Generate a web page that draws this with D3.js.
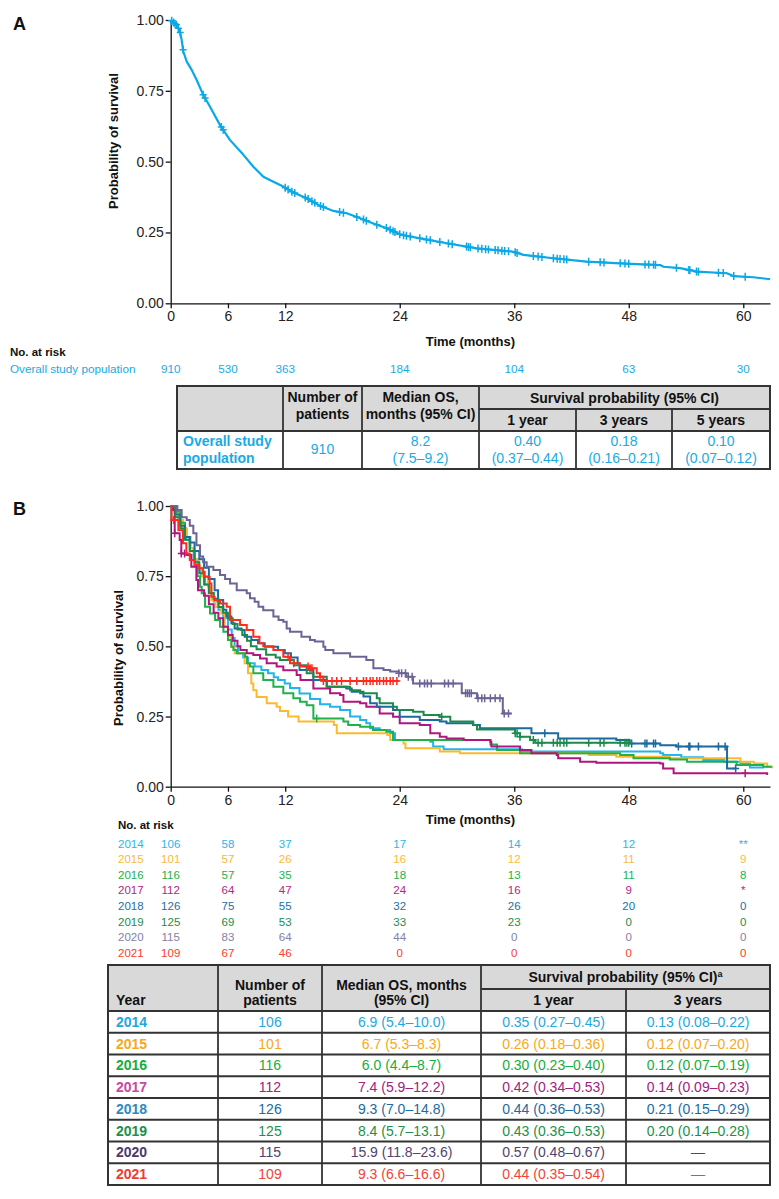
<!DOCTYPE html>
<html>
<head>
<meta charset="utf-8">
<script src="https://cdn.jsdelivr.net/npm/d3@7"></script>
<style>
    body { margin: 0; background: #fff; }
    svg { display: block; font-family: "Liberation Sans", Arial, Helvetica, sans-serif; }
</style>
</head>
<body>
<div id="chart"></div>
<script>
"use strict";

// ----------------------------------------
//  Data
// ----------------------------------------

let at_risk_times = [0, 6, 12, 24, 36, 48, 60];
let y_ticks = [0, 0.25, 0.5, 0.75, 1];

// Panel A - overall population, [months, survival]
let overall_curve = [[0,1],[0.63,0.982],[0.98,0.959],[1.15,0.929],[1.33,0.888],[1.68,0.853],[2.2,0.824],
    [2.72,0.788],[3.42,0.735],[4.12,0.694],[5.17,0.629],[6.22,0.576],[7.62,0.524],[8.66,0.482],[9.71,0.447],
    [10.76,0.429],[11.8,0.412],[12.86,0.391],[14.25,0.371],[15.65,0.344],[17.05,0.326],[18.45,0.318],
    [19.85,0.3],[21.24,0.282],[22.64,0.265],[24.04,0.243],[26.13,0.229],[28.93,0.212],[32.07,0.194],
    [35.92,0.182],[36.96,0.171],[40.11,0.159],[43.6,0.147],[47.1,0.141],[51.29,0.135],[51.64,0.129],
    [53.39,0.124],[55.13,0.112],[58.28,0.106],[58.98,0.096],[61.07,0.092],[62.82,0.085]];
let overall_censor = [0.1,0.3,0.45,0.6,0.8,1.0,1.3,3.4,3.6,5.3,5.5,12.0,12.3,12.7,13.0,14.1,14.4,14.8,15.1,15.7,
    16.0,17.7,18.1,19.5,20.2,20.5,21.6,22.6,23.0,23.3,23.5,24.0,24.4,24.7,25.1,26.1,26.8,27.2,28.2,29.1,29.5,
    31.0,31.2,31.4,32.2,32.6,33.0,33.3,34.0,34.3,34.7,35.0,35.4,36.1,36.3,38.0,38.5,38.9,40.1,40.5,40.8,41.2,
    41.5,43.8,45.0,45.4,47.1,47.6,48.0,49.7,50.1,50.6,50.8,53.0,54.3,54.4,55.1,55.3,57.4,57.9,59.0,60.2];
let overall_at_risk = [910, 530, 363, 184, 104, 63, 30];

// Panel B - by year of diagnosis
let years = ['2014','2015','2016','2017','2018','2019','2020','2021'];
let year_colors = ['#22b4ea','#fbb92e','#22b04a','#b0177e','#1c6aa0','#1b8a4c','#6d6394','#ff2b1c'];
let risk_colors = ['#29b6ea','#fbb93a','#22b04a','#b3258a','#2271a5','#1d8c4e','#8580a8','#ff3a2a'];

let curve_2014 = [[0,1],[0.4,0.98],[0.8,0.95],[1.2,0.92],[1.6,0.88],[2.0,0.85],[2.4,0.81],[2.8,0.78],[3.2,0.75],
    [3.6,0.72],[4.0,0.69],[4.5,0.66],[5.0,0.63],[5.5,0.6],[6.0,0.56],[6.4,0.53],[6.7,0.5],[7.05,0.475],[7.6,0.46],
    [8.1,0.44],[8.8,0.428],[9.5,0.416],[10.2,0.404],[10.8,0.39],[11.25,0.38],[11.95,0.368],[12.5,0.352],
    [13.5,0.332],[14.6,0.312],[15.65,0.294],[16.7,0.285],[17.75,0.273],[18.8,0.25],[19.85,0.238],[20.5,0.226],
    [20.9,0.208],[21.9,0.202],[23.0,0.19],[23.5,0.166],[27.2,0.16],[27.5,0.143],[28.6,0.133],[36.8,0.125],
    [51.3,0.119],[51.6,0.113],[53.5,0.105],[55.8,0.095],[58.0,0.089],[59.7,0.083],[60.7,0.068],[62.2,0.068]];
let curve_2015 = [[0,1],[0.5,0.98],[0.9,0.95],[1.3,0.92],[1.7,0.89],[2.1,0.85],[2.5,0.81],[2.9,0.78],[3.3,0.75],
    [3.9,0.712],[4.26,0.665],[4.7,0.64],[5.3,0.617],[5.66,0.57],[6.0,0.534],[6.36,0.499],[6.7,0.475],[7.75,0.44],
    [8.1,0.404],[8.45,0.368],[8.66,0.344],[9.0,0.32],[10.06,0.297],[11.1,0.285],[11.45,0.27],[12.3,0.25],
    [13.4,0.232],[17.1,0.22],[17.4,0.19],[22.7,0.184],[23.0,0.166],[24.4,0.154],[24.6,0.137],[28.2,0.125],
    [30.3,0.119],[43.8,0.113],[46.7,0.107],[52.3,0.101],[59.7,0.089],[61.1,0.083],[62.5,0.071],[63,0.066]];
let curve_2016 = [[0,1],[0.7,0.98],[1.0,0.94],[1.5,0.89],[2.0,0.84],[2.5,0.79],[2.8,0.75],[3.07,0.712],[3.25,0.689],
    [3.6,0.641],[4.12,0.617],[4.65,0.594],[5.17,0.57],[5.52,0.552],[6.0,0.523],[6.36,0.499],[6.57,0.487],
    [6.92,0.475],[7.79,0.463],[8.0,0.44],[8.3,0.428],[8.66,0.404],[9.7,0.38],[10.76,0.356],[11.8,0.333],
    [12.85,0.315],[13.55,0.303],[14.25,0.29],[14.95,0.243],[18.1,0.232],[18.6,0.22],[19.85,0.214],[21.2,0.202],
    [22.6,0.196],[23.3,0.166],[33.5,0.15],[34.2,0.131],[36.6,0.119],[47.1,0.113],[48.5,0.101],[52.3,0.097],
    [54.1,0.089],[59.3,0.077],[62.1,0.071],[63,0.071]];
let curve_2017 = [[0,1],[0.24,0.986],[0.42,0.903],[0.94,0.879],[1.11,0.831],[1.64,0.825],[2.16,0.784],[2.69,0.736],
    [2.86,0.7],[3.5,0.68],[4.0,0.65],[4.5,0.62],[5.0,0.6],[5.5,0.57],[6.0,0.54],[6.5,0.52],[7.0,0.5],[7.3,0.487],
    [7.97,0.475],[8.66,0.469],[9.36,0.457],[10.06,0.44],[11.1,0.428],[11.8,0.415],[13.2,0.398],[13.6,0.38],
    [14.95,0.35],[16.7,0.333],[17.75,0.327],[18.1,0.303],[19.85,0.297],[20.5,0.285],[21.9,0.261],[23.3,0.249],
    [24.0,0.226],[26.1,0.22],[27.2,0.19],[28.2,0.178],[28.9,0.172],[30.7,0.166],[33.5,0.16],[33.6,0.143],
    [36.6,0.131],[37.8,0.119],[40.45,0.113],[40.6,0.101],[42.9,0.089],[44.6,0.085],[51.3,0.083],[51.6,0.065],
    [52.7,0.048],[62.5,0.042]];
let curve_2018 = [[0,1],[0.5,0.97],[1.0,0.93],[1.5,0.89],[2.0,0.87],[2.5,0.84],[3.0,0.81],[3.5,0.78],[4.0,0.74],
    [4.6,0.7],[4.96,0.665],[5.5,0.63],[5.83,0.606],[6.36,0.582],[6.7,0.564],[7.4,0.558],[7.75,0.534],[8.45,0.523],
    [9.15,0.511],[9.85,0.499],[11.25,0.487],[11.95,0.475],[12.6,0.46],[13.3,0.44],[13.5,0.416],[14.95,0.38],
    [16.35,0.356],[18.4,0.35],[18.97,0.338],[20.2,0.321],[20.9,0.297],[21.6,0.285],[23.3,0.273],[24.0,0.249],
    [26.1,0.238],[28.2,0.232],[28.9,0.226],[31.7,0.22],[32.4,0.208],[37.8,0.19],[40.6,0.172],[46.7,0.166],
    [48.1,0.154],[51.3,0.148],[53.0,0.143],[58.3,0.065],[59.3,0.065]];
let curve_2019 = [[0,1],[0.5,0.96],[1.0,0.92],[1.5,0.88],[2.0,0.84],[2.5,0.8],[3.0,0.76],[3.5,0.72],[4.0,0.69],
    [4.5,0.67],[5.0,0.64],[5.5,0.62],[6.0,0.6],[6.5,0.58],[7.0,0.56],[7.5,0.54],[8.0,0.52],[8.4,0.5],[9.0,0.49],
    [10.0,0.47],[11.0,0.46],[11.46,0.451],[12.9,0.433],[14.25,0.404],[14.95,0.392],[16.35,0.356],[18.8,0.344],
    [19.85,0.333],[21.6,0.315],[21.9,0.297],[23.3,0.285],[23.7,0.273],[25.4,0.267],[26.5,0.255],[28.2,0.249],
    [29.3,0.232],[31.7,0.22],[32.1,0.204],[36.09,0.19],[36.6,0.178],[37.66,0.166],[38.2,0.157],[48.1,0.157]];
let curve_2020 = [[0,1],[0.63,0.986],[1.15,0.96],[1.68,0.95],[2.0,0.93],[2.37,0.903],[2.7,0.86],[3.07,0.82],
    [3.4,0.8],[3.77,0.784],[4.47,0.772],[5.17,0.754],[5.7,0.74],[6.22,0.724],[6.92,0.7],[7.97,0.689],[8.31,0.671],
    [8.8,0.659],[9.2,0.641],[9.7,0.629],[10.76,0.606],[11.3,0.594],[11.8,0.588],[12.15,0.564],[12.5,0.552],
    [13.7,0.534],[14.6,0.523],[15.1,0.517],[16.0,0.499],[16.2,0.487],[17.05,0.475],[18.8,0.463],[20.5,0.451],
    [21.24,0.422],[22.3,0.416],[23.0,0.41],[23.9,0.404],[24.7,0.392],[25.4,0.368],[30.3,0.368],[30.5,0.333],
    [32.1,0.315],[34.75,0.315],[34.8,0.261],[35.7,0.261]];
let curve_2021 = [[0,1],[0.1,0.95],[0.8,0.914],[1.29,0.867],[1.64,0.831],[2.0,0.808],[2.51,0.79],[3.0,0.778],
    [3.39,0.766],[3.56,0.748],[4.08,0.724],[4.26,0.677],[4.6,0.665],[5.17,0.653],[5.87,0.641],[6.22,0.594],
    [7.27,0.576],[7.97,0.558],[8.66,0.534],[9.3,0.511],[9.7,0.5],[10.76,0.487],[11.8,0.463],[12.5,0.44],
    [13.55,0.428],[14.6,0.422],[15.3,0.404],[15.65,0.392],[16.0,0.377],[23.9,0.377]];
let year_curves = [curve_2014, curve_2015, curve_2016, curve_2017, curve_2018, curve_2019, curve_2020, curve_2021];

let year_censors = [
    [],
    [],
    [15.3],
    [0.42, 1.11, 1.46, 60.2],
    [39.2,48.3,49.7,49.9,50.6,50.8,53.2,54.3,54.4,55.3,57.4,58.1,59.2],
    [28.4,36.1,36.3,36.6,38.0,38.5,38.9,40.1,40.5,40.8,41.2,41.5,43.8,45.0,45.4,47.1,47.6,47.8,48.0],
    [23.9,24.2,24.6,24.9,25.3,26.1,26.6,26.9,27.3,28.7,29.1,29.6,30.9,31.1,31.3,31.5,32.2,32.6,32.9,33.5,34.0,34.5,34.95,35.4],
    [0.3,12.3,12.9,14.4,14.6,14.8,15.65,16.0,16.9,17.4,17.9,18.8,19.5,20.2,20.5,20.9,21.2,21.6,21.9,22.3,22.6,23.0,23.3,23.7]
];

let at_risk_by_year = [
    ['106','58','37','17','14','12','**'],
    ['101','57','26','16','12','11','9'],
    ['116','57','35','18','13','11','8'],
    ['112','64','47','24','16','9','*'],
    ['126','75','55','32','26','20','0'],
    ['125','69','53','33','23','0','0'],
    ['115','83','64','44','0','0','0'],
    ['109','67','46','0','0','0','0']
];

// Table B
let n_patients = ['106','101','116','112','126','125','115','109'];
let median_os = ['6.9 (5.4\u201310.0)','6.7 (5.3\u20138.3)','6.0 (4.4\u20138.7)','7.4 (5.9\u201312.2)',
    '9.3 (7.0\u201314.8)','8.4 (5.7\u201313.1)','15.9 (11.8\u201323.6)','9.3 (6.6\u201316.6)'];
let surv_1yr = ['0.35 (0.27\u20130.45)','0.26 (0.18\u20130.36)','0.30 (0.23\u20130.40)','0.42 (0.34\u20130.53)',
    '0.44 (0.36\u20130.53)','0.43 (0.36\u20130.53)','0.57 (0.48\u20130.67)','0.44 (0.35\u20130.54)'];
let surv_3yr = ['0.13 (0.08\u20130.22)','0.12 (0.07\u20130.20)','0.12 (0.07\u20130.19)','0.14 (0.09\u20130.23)',
    '0.21 (0.15\u20130.29)','0.20 (0.14\u20130.28)','\u2014','\u2014'];
let label_colors = ['#1ea7e0','#f7a823','#17ad3b','#c8489f','#2a8bc0','#1c8f4a','#4a3a6e','#f03a32'];
let cell_colors  = ['#1ea7e0','#f7a823','#17ad3b','#a3207f','#1d6a9f','#1c8f4a','#4f4470','#f0443a'];

// Plot Appearance Settings
let width = 779, height = 1199;
let cyan = '#0aa8e6';
let cyan_text = '#1aaae4';
let border = '#333';
let head_fill = '#d9d9d9';

let svg = d3.select('#chart').append('svg')
    .attr('width', width)
    .attr('height', height);

svg.append('rect').attr('width', width).attr('height', height).attr('fill', '#fff');

// ----------------------------------------
//  Helpers
// ----------------------------------------

function draw_axes(x, y, x_title_y, y_title_pos) {
    let g = svg.append('g');
    g.append('g')
        .attr('transform', 'translate(0,' + y(0) + ')')
        .call(d3.axisBottom(x).tickValues(at_risk_times).tickSize(5).tickSizeOuter(0).tickFormat(d3.format('d')))
        .call(ax => ax.attr('font-family', null).attr('font-size', 14));
    g.append('g')
        .attr('transform', 'translate(' + x(0) + ',0)')
        .call(d3.axisLeft(y).tickValues(y_ticks).tickSize(5).tickSizeOuter(0).tickPadding(2).tickFormat(d3.format('.2f')))
        .call(ax => ax.attr('font-family', null).attr('font-size', 14));
    g.selectAll('.domain, .tick line').attr('stroke', '#111').attr('stroke-width', 1.3);
    g.selectAll('.tick text').attr('fill', '#222');

    g.append('text')
        .attr('x', (x.range()[0] + x.range()[1]) / 2)
        .attr('y', x_title_y)
        .attr('text-anchor', 'middle')
        .attr('font-weight', 'bold')
        .attr('font-size', 13)
        .attr('fill', '#111')
        .text('Time (months)');

    g.append('text')
        .attr('transform', 'translate(' + y_title_pos[0] + ',' + y_title_pos[1] + ') rotate(-90)')
        .attr('text-anchor', 'middle')
        .attr('dy', '0.35em')
        .attr('font-weight', 'bold')
        .attr('font-size', 13)
        .attr('fill', '#111')
        .text('Probability of survival');
}

// value of a step function at time t
function step_value(points, t) {
    let i = d3.bisector(d => d[0]).right(points, t) - 1;
    return points[Math.max(i, 0)][1];
}

// value of a piecewise linear curve at time t
function linear_value(points, t) {
    let i = d3.bisector(d => d[0]).right(points, t);
    if (i <= 0) return points[0][1];
    if (i >= points.length) return points[points.length - 1][1];
    let a = points[i - 1], b = points[i];
    return a[1] + (b[1] - a[1]) * (t - a[0]) / (b[0] - a[0]);
}

function draw_censors(g, times, value_fn, x, y, color, sw) {
    g.selectAll(null)
        .data(times)
        .enter()
        .append('path')
        .attr('d', function (t) {
            let cx = x(t), cy = y(value_fn(t));
            return 'M' + (cx - 3.5) + ',' + cy + 'h7M' + cx + ',' + (cy - 4) + 'v8';
        })
        .attr('stroke', color)
        .attr('stroke-width', sw)
        .attr('fill', 'none');
}

function txt(g, x, y, s, opts) {
    opts = opts || {};
    return g.append('text')
        .attr('x', x)
        .attr('y', y)
        .attr('text-anchor', opts.anchor || 'middle')
        .attr('font-size', opts.size || 14)
        .attr('font-weight', opts.bold ? 'bold' : null)
        .attr('fill', opts.color || '#111')
        .text(s);
}

function hline(g, x1, x2, y) {
    g.append('line').attr('x1', x1).attr('x2', x2).attr('y1', y).attr('y2', y)
        .attr('stroke', border).attr('stroke-width', 1.8);
}

function vline(g, x, y1, y2) {
    g.append('line').attr('x1', x).attr('x2', x).attr('y1', y1).attr('y2', y2)
        .attr('stroke', border).attr('stroke-width', 1.8);
}

// ----------------------------------------
//  Panel A
// ----------------------------------------

let x_a = d3.scaleLinear().domain([0, 62.8]).range([170.7, 770]);
let y_a = d3.scaleLinear().domain([0, 1]).range([303.3, 20]);

txt(svg, 13, 30, 'A', {anchor: 'start', size: 18, bold: true});
draw_axes(x_a, y_a, 346, [113, 141]);

let g_a = svg.append('g');
g_a.append('path')
    .datum(overall_curve)
    .attr('d', d3.line().x(d => x_a(d[0])).y(d => y_a(d[1])).curve(d3.curveLinear))
    .attr('fill', 'none')
    .attr('stroke', cyan)
    .attr('stroke-width', 2.2)
    .attr('stroke-linejoin', 'round');
draw_censors(g_a, overall_censor, t => linear_value(overall_curve, t), x_a, y_a, cyan, 1.5);

// at risk
txt(svg, 10, 356, 'No. at risk', {anchor: 'start', size: 11.5, bold: true});
txt(svg, 10, 373, 'Overall study population', {anchor: 'start', size: 11.7, color: cyan_text});
at_risk_times.forEach(function (t, i) {
    txt(svg, x_a(t), 373, overall_at_risk[i], {size: 11.7, color: cyan_text});
});

// table A
let ta = svg.append('g');
let ta_cols = [177, 283, 362, 479, 576, 672, 770];
let ta_top = 386, ta_sub = 409, ta_head = 431, ta_bot = 469;
ta.append('rect').attr('x', ta_cols[0]).attr('y', ta_top)
    .attr('width', ta_cols[6] - ta_cols[0]).attr('height', ta_head - ta_top).attr('fill', head_fill);
hline(ta, ta_cols[3], ta_cols[6], ta_sub);
hline(ta, ta_cols[0], ta_cols[6], ta_head);
[1, 2, 3].forEach(i => vline(ta, ta_cols[i], ta_top, ta_bot));
[4, 5].forEach(i => vline(ta, ta_cols[i], ta_sub, ta_bot));
ta.append('rect').attr('x', ta_cols[0]).attr('y', ta_top)
    .attr('width', ta_cols[6] - ta_cols[0]).attr('height', ta_bot - ta_top)
    .attr('fill', 'none').attr('stroke', border).attr('stroke-width', 2);

let mid = (a, b) => (a + b) / 2;
txt(ta, mid(ta_cols[1], ta_cols[2]), 402, 'Number of', {bold: true});
txt(ta, mid(ta_cols[1], ta_cols[2]), 419, 'patients', {bold: true});
txt(ta, mid(ta_cols[2], ta_cols[3]), 402, 'Median OS,', {bold: true});
txt(ta, mid(ta_cols[2], ta_cols[3]), 419, 'months (95% CI)', {bold: true});
txt(ta, mid(ta_cols[3], ta_cols[6]), 402.5, 'Survival probability (95% CI)', {bold: true});
txt(ta, mid(ta_cols[3], ta_cols[4]), 425, '1 year', {bold: true});
txt(ta, mid(ta_cols[4], ta_cols[5]), 425, '3 years', {bold: true});
txt(ta, mid(ta_cols[5], ta_cols[6]), 425, '5 years', {bold: true});

txt(ta, 183, 446, 'Overall study', {anchor: 'start', bold: true, color: cyan_text});
txt(ta, 183, 463, 'population', {anchor: 'start', bold: true, color: cyan_text});
txt(ta, mid(ta_cols[1], ta_cols[2]), 454, '910', {color: cyan_text});
txt(ta, mid(ta_cols[2], ta_cols[3]), 446, '8.2', {color: cyan_text});
txt(ta, mid(ta_cols[2], ta_cols[3]), 463, '(7.5\u20139.2)', {color: cyan_text});
txt(ta, mid(ta_cols[3], ta_cols[4]), 446, '0.40', {color: cyan_text});
txt(ta, mid(ta_cols[3], ta_cols[4]), 463, '(0.37\u20130.44)', {color: cyan_text});
txt(ta, mid(ta_cols[4], ta_cols[5]), 446, '0.18', {color: cyan_text});
txt(ta, mid(ta_cols[4], ta_cols[5]), 463, '(0.16\u20130.21)', {color: cyan_text});
txt(ta, mid(ta_cols[5], ta_cols[6]), 446, '0.10', {color: cyan_text});
txt(ta, mid(ta_cols[5], ta_cols[6]), 463, '(0.07\u20130.12)', {color: cyan_text});

// ----------------------------------------
//  Panel B
// ----------------------------------------

let x_b = d3.scaleLinear().domain([0, 62.8]).range([170.7, 770]);
let y_b = d3.scaleLinear().domain([0, 1]).range([786.7, 506]);

txt(svg, 13, 515, 'B', {anchor: 'start', size: 18, bold: true});
draw_axes(x_b, y_b, 824, [118, 658]);

let g_b = svg.append('g');
let step_line = d3.line().x(d => x_b(d[0])).y(d => y_b(d[1])).curve(d3.curveStepAfter);
year_curves.forEach(function (c, i) {
    g_b.append('path')
        .datum(c)
        .attr('d', step_line)
        .attr('fill', 'none')
        .attr('stroke', year_colors[i])
        .attr('stroke-width', 2);
    draw_censors(g_b, year_censors[i], t => step_value(c, t), x_b, y_b, year_colors[i], 1.5);
});

// at risk by year
txt(svg, 118, 829, 'No. at risk', {anchor: 'start', size: 11.5, bold: true});
years.forEach(function (yr, i) {
    let yy = 847.5 + i * 15.65;
    txt(svg, 118, yy, yr, {anchor: 'start', size: 11.5, color: risk_colors[i]});
    at_risk_times.forEach(function (t, j) {
        txt(svg, x_b(t), yy, at_risk_by_year[i][j], {size: 11.5, color: risk_colors[i]});
    });
});

// table B
let tb = svg.append('g');
let tb_cols = [108, 218, 322, 481, 626, 770];
let tb_top = 965, tb_sub = 989, tb_head = 1011, tb_row = 21.75;
let tb_bot = tb_head + tb_row * years.length;
tb.append('rect').attr('x', tb_cols[0]).attr('y', tb_top)
    .attr('width', tb_cols[5] - tb_cols[0]).attr('height', tb_head - tb_top).attr('fill', head_fill);
hline(tb, tb_cols[3], tb_cols[5], tb_sub);
years.forEach((yr, i) => hline(tb, tb_cols[0], tb_cols[5], tb_head + i * tb_row));
[1, 2, 3].forEach(i => vline(tb, tb_cols[i], tb_top, tb_bot));
vline(tb, tb_cols[4], tb_sub, tb_bot);
tb.append('rect').attr('x', tb_cols[0]).attr('y', tb_top)
    .attr('width', tb_cols[5] - tb_cols[0]).attr('height', tb_bot - tb_top)
    .attr('fill', 'none').attr('stroke', border).attr('stroke-width', 2);

txt(tb, 116, 1005, 'Year', {anchor: 'start', bold: true});
txt(tb, mid(tb_cols[1], tb_cols[2]), 990, 'Number of', {bold: true});
txt(tb, mid(tb_cols[1], tb_cols[2]), 1005, 'patients', {bold: true});
txt(tb, mid(tb_cols[2], tb_cols[3]), 990, 'Median OS, months', {bold: true});
txt(tb, mid(tb_cols[2], tb_cols[3]), 1005, '(95% CI)', {bold: true});
let sp = txt(tb, mid(tb_cols[3], tb_cols[5]), 982, 'Survival probability (95% CI)', {bold: true});
sp.append('tspan').attr('font-size', 9).attr('dy', -5).text('a');
txt(tb, mid(tb_cols[3], tb_cols[4]), 1005, '1 year', {bold: true});
txt(tb, mid(tb_cols[4], tb_cols[5]), 1005, '3 years', {bold: true});

years.forEach(function (yr, i) {
    let yy = tb_head + i * tb_row + tb_row / 2 + 5;
    txt(tb, 116, yy, yr, {anchor: 'start', bold: true, color: label_colors[i]});
    txt(tb, mid(tb_cols[1], tb_cols[2]), yy, n_patients[i], {color: cell_colors[i]});
    txt(tb, mid(tb_cols[2], tb_cols[3]), yy, median_os[i], {color: cell_colors[i]});
    txt(tb, mid(tb_cols[3], tb_cols[4]), yy, surv_1yr[i], {color: cell_colors[i]});
    txt(tb, mid(tb_cols[4], tb_cols[5]), yy, surv_3yr[i], {color: cell_colors[i]});
});

console.log('plot complete');
</script>
</body>
</html>
